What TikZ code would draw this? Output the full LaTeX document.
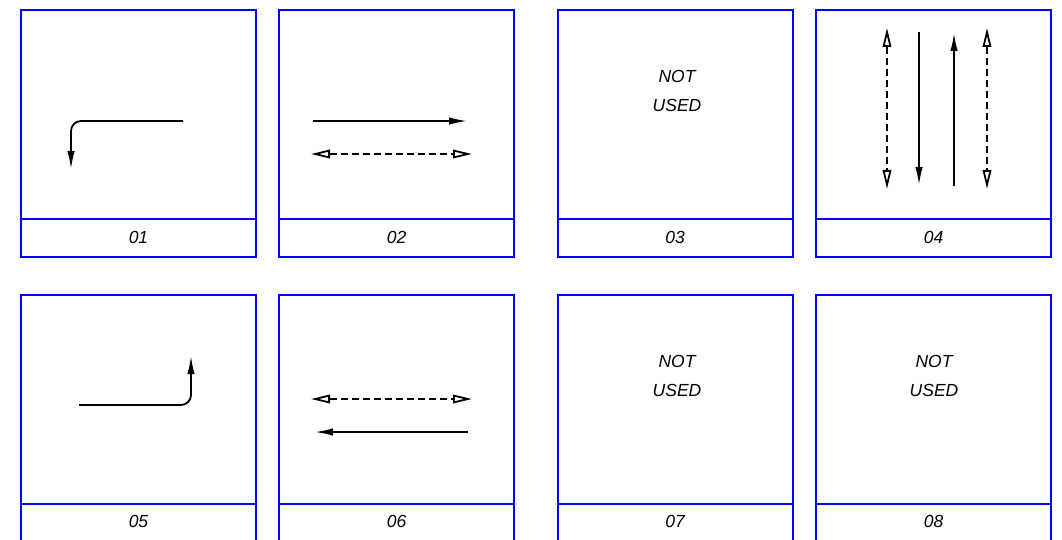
\documentclass[tikz,border=0pt]{standalone}
\usepackage{fontspec}
\setmainfont{Liberation Sans}
\usetikzlibrary{arrows.meta}
\begin{document}
\begin{tikzpicture}[x=1pt,y=-1pt,
  panel/.style={draw=blue, line width=1.5pt},
  wire/.style={draw=black, line width=1.8pt},
  solidtip/.style={-{Latex[length=18pt,width=7.5pt]}},
  opentips/.style={{Triangle[open,length=19pt,width=8.5pt]}-{Triangle[open,length=19pt,width=8.5pt]}, dash pattern=on 7pt off 4pt},
  lbl/.style={font=\itshape\fontsize{17.5}{20}\selectfont, inner sep=0pt},
]
\useasboundingbox (0,0) rectangle (1062,540);
\clip (0,0) rectangle (1062,540);
% panels
\foreach \x in {21,279,558,816}
  \foreach \y in {10,295} {
    \draw[panel] (\x,\y) rectangle ++(235,247);
    \draw[panel] (\x,\y+209) -- ++(235,0);
  }
% labels
\node[lbl] (l01) at (138.5,237) {01};
\node[lbl] (l02) at (396.5,237) {02};
\node[lbl] (l03) at (675,237) {03};
\node[lbl] (l04) at (933.5,237) {04};
\node[lbl] (l05) at (138.5,521) {05};
\node[lbl] (l06) at (396.5,521) {06};
\node[lbl] (l07) at (675,521) {07};
\node[lbl] (l08) at (933.5,521) {08};
\node[lbl] (n3a) at (677,76) {NOT};
\node[lbl] (n3b) at (677,105) {USED};
\node[lbl] (n7a) at (677,361) {NOT};
\node[lbl] (n7b) at (677,390) {USED};
\node[lbl] (n8a) at (934,361) {NOT};
\node[lbl] (n8b) at (934,390) {USED};
% coordinates
\coordinate (a1s) at (183,121);
\coordinate (a1c) at (71,121);
\coordinate (a1e) at (71,169);
\coordinate (a2s) at (313,121);
\coordinate (a2e) at (467,121);
\coordinate (b2s) at (311,154);
\coordinate (b2e) at (472,154);
\coordinate (c4as) at (887,28);
\coordinate (c4ae) at (887,189);
\coordinate (c4bs) at (919,32);
\coordinate (c4be) at (919,185);
\coordinate (c4cs) at (954,186);
\coordinate (c4ce) at (954,33);
\coordinate (c4ds) at (987,28);
\coordinate (c4de) at (987,189);
\coordinate (a5s) at (79,405);
\coordinate (a5c) at (191,405);
\coordinate (a5e) at (191,356);
\coordinate (b6s) at (311,399);
\coordinate (b6e) at (472,399);
\coordinate (a6s) at (468,432);
\coordinate (a6e) at (315,432);
% arrows
\draw[wire,solidtip,rounded corners=10pt] (a1s) -- (a1c) -- (a1e);
\draw[wire,solidtip] (a2s) -- (a2e);
\draw[wire,opentips] (b2s) -- (b2e);
\draw[wire,opentips] (c4as) -- (c4ae);
\draw[wire,solidtip] (c4bs) -- (c4be);
\draw[wire,solidtip] (c4cs) -- (c4ce);
\draw[wire,opentips] (c4ds) -- (c4de);
\draw[wire,solidtip,rounded corners=10pt] (a5s) -- (a5c) -- (a5e);
\draw[wire,opentips] (b6s) -- (b6e);
\draw[wire,solidtip] (a6s) -- (a6e);
\end{tikzpicture}
\end{document}
